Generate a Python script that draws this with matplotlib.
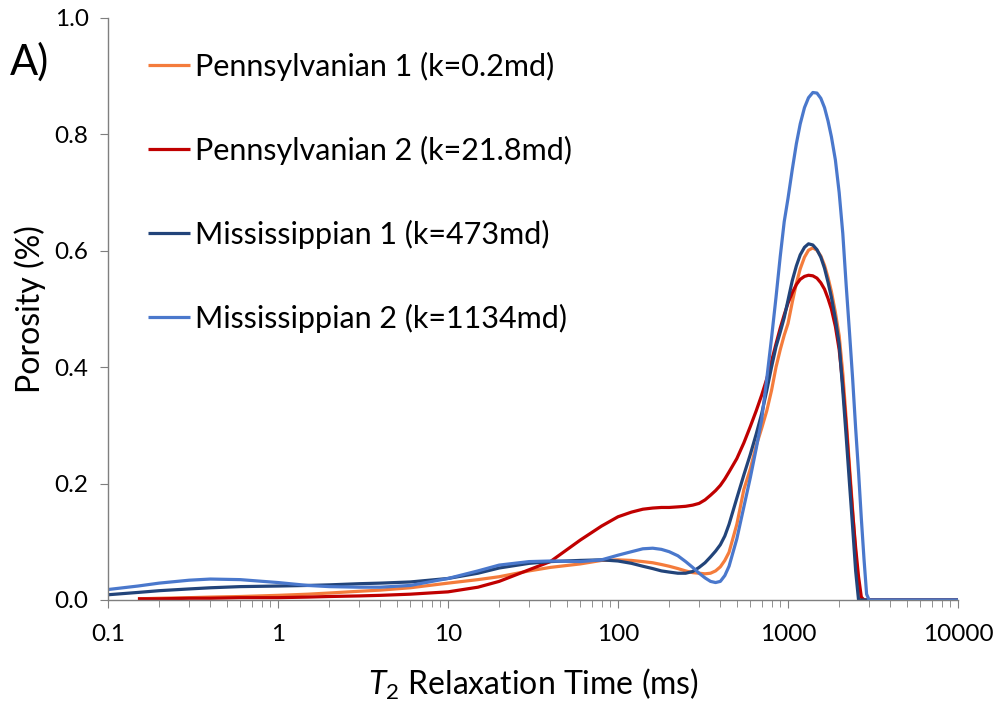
import numpy as np
import matplotlib
matplotlib.use("Agg")
import matplotlib.pyplot as plt

plt.rcParams["font.family"] = ["Lato", "DejaVu Sans"]
plt.rcParams["mathtext.fontset"] = "custom"
plt.rcParams["mathtext.rm"] = "Lato"
plt.rcParams["mathtext.it"] = "Lato:italic"

# T2 bins (ms)
t2 = [0.1, 0.15, 0.2, 0.3, 0.4, 0.6, 1, 1.5, 2, 3, 4, 6, 10, 15, 20, 30, 40, 60, 80,
      100, 120, 140, 160, 180, 200, 225, 250, 275, 300, 325, 350, 375, 400, 425, 450,
      500, 550, 600, 650, 700, 750, 800, 850, 900, 950, 1000,
      1060, 1120, 1180, 1250, 1320, 1400, 1480, 1560, 1640, 1720, 1800,
      1900, 2000, 2100, 2200, 2300, 2400, 2500, 2600, 2700, 2800, 2900, 3000,
      4000, 6000, 10000]

penn1 = [np.nan, 0.002, 0.003, 0.004, 0.005, 0.006, 0.008, 0.010, 0.012, 0.015, 0.017,
         0.021, 0.029, 0.035, 0.040, 0.050, 0.056, 0.062, 0.068,
         0.069, 0.068, 0.066, 0.064, 0.061, 0.058, 0.054, 0.050, 0.047, 0.046, 0.045,
         0.046, 0.050, 0.057, 0.068, 0.082,
         0.13, 0.19, 0.225, 0.265, 0.295, 0.325, 0.36, 0.40, 0.43, 0.455, 0.475,
         0.512, 0.544, 0.569, 0.589, 0.601, 0.605, 0.601, 0.591, 0.575, 0.554, 0.53,
         0.494, 0.454, 0.39, 0.31, 0.23, 0.155, 0.08, 0.02, 0.0, 0.0, 0.0, 0.0,
         0.0, 0.0, 0.0]

penn2 = [np.nan, 0.002, 0.002, 0.003, 0.003, 0.004, 0.004, 0.005, 0.006, 0.007, 0.008,
         0.010, 0.014, 0.022, 0.032, 0.052, 0.066, 0.103, 0.127,
         0.143, 0.151, 0.156, 0.158, 0.159, 0.159, 0.160, 0.161, 0.163, 0.166, 0.172,
         0.18, 0.188, 0.197, 0.208, 0.22,
         0.243, 0.27, 0.298, 0.325, 0.352, 0.38, 0.41, 0.44, 0.467, 0.49, 0.51,
         0.528, 0.542, 0.551, 0.556, 0.558, 0.557, 0.553, 0.545, 0.534, 0.518, 0.50,
         0.47, 0.43, 0.37, 0.30, 0.22, 0.15, 0.09, 0.04, 0.005, 0.0, 0.0, 0.0,
         0.0, 0.0, 0.0]

miss1 = [0.009, 0.013, 0.016, 0.019, 0.021, 0.023, 0.024, 0.025, 0.026, 0.028, 0.029,
         0.031, 0.037, 0.046, 0.055, 0.063, 0.066, 0.068, 0.069,
         0.067, 0.063, 0.058, 0.054, 0.050, 0.048, 0.046, 0.046, 0.049, 0.056, 0.064,
         0.074, 0.084, 0.095, 0.11, 0.13,
         0.175, 0.215, 0.25, 0.285, 0.32, 0.36, 0.40, 0.435, 0.46, 0.485, 0.515,
         0.549, 0.574, 0.593, 0.606, 0.612, 0.610, 0.602, 0.589, 0.57, 0.546, 0.52,
         0.483, 0.44, 0.36, 0.28, 0.20, 0.125, 0.05, 0.0, 0.0, 0.0, 0.0, 0.0,
         0.0, 0.0, 0.0]

miss2 = [0.018, 0.024, 0.029, 0.034, 0.036, 0.035, 0.030, 0.025, 0.023, 0.022, 0.022,
         0.025, 0.037, 0.050, 0.060, 0.066, 0.067, 0.066, 0.069,
         0.077, 0.083, 0.088, 0.089, 0.087, 0.083, 0.076, 0.066, 0.056, 0.046, 0.038,
         0.032, 0.030, 0.032, 0.042, 0.058,
         0.105, 0.16, 0.21, 0.26, 0.31, 0.38, 0.45, 0.52, 0.59, 0.65, 0.69,
         0.74, 0.784, 0.818, 0.846, 0.863, 0.872, 0.871, 0.862, 0.846, 0.823, 0.796,
         0.756, 0.70, 0.63, 0.54, 0.46, 0.38, 0.295, 0.22, 0.14, 0.07, 0.01, 0.0,
         0.0, 0.0, 0.0]

labels = ["Pennsylvanian 1 (k=0.2md)", "Pennsylvanian 2 (k=21.8md)",
          "Mississippian 1 (k=473md)", "Mississippian 2 (k=1134md)"]
colors = ["#F47C3C", "#C00000", "#22447A", "#4A78CC"]

fig = plt.figure(figsize=(9.97, 7.02), dpi=100)
ax = fig.add_axes([108 / 997, 102 / 702, 850 / 997, 582 / 702])

for y, lab, c in zip([penn1, penn2, miss1, miss2], labels, colors):
    ax.plot(t2, y, color=c, lw=2.3, label=lab, solid_capstyle="butt",
            solid_joinstyle="round")

ax.set_xscale("log")
ax.set_xlim(0.1, 10000)
ax.set_ylim(0, 1.0)
ax.set_yticks([0, 0.2, 0.4, 0.6, 0.8, 1.0])
ax.set_yticklabels(["0.0", "0.2", "0.4", "0.6", "0.8", "1.0"])
ax.set_xticks([0.1, 1, 10, 100, 1000, 10000])
ax.set_xticklabels(["0.1", "1", "10", "100", "1000", "10000"])

for s in ["top", "right"]:
    ax.spines[s].set_visible(False)
for s in ["left", "bottom"]:
    ax.spines[s].set_color("#7f7f7f")
    ax.spines[s].set_linewidth(1.0)
ax.tick_params(axis="both", which="major", length=6, color="#7f7f7f",
               labelsize=17.5)
ax.tick_params(axis="x", which="major", pad=11)
ax.tick_params(axis="y", which="major", pad=8)
ax.tick_params(axis="x", which="minor", length=5, color="#7f7f7f")
ax.tick_params(axis="y", which="minor", left=False)

ax.set_ylabel("Porosity (%)", fontsize=23, labelpad=6)
ax.set_xlabel(r"$\mathit{T}_{\mathit{2}}$ Relaxation Time (ms)", fontsize=23, labelpad=16)

leg = ax.legend(loc="upper left", bbox_to_anchor=(148 / 997, 1 - 52 / 702),
                bbox_transform=fig.transFigure, frameon=False, fontsize=22,
                handlelength=1.37, handletextpad=0.16, labelspacing=1.79,
                borderaxespad=0, borderpad=0)

fig.text(10 / 997, 1 - 62 / 702, "A)", fontsize=30, va="center", ha="left")

fig.savefig("out.png", dpi=100)
